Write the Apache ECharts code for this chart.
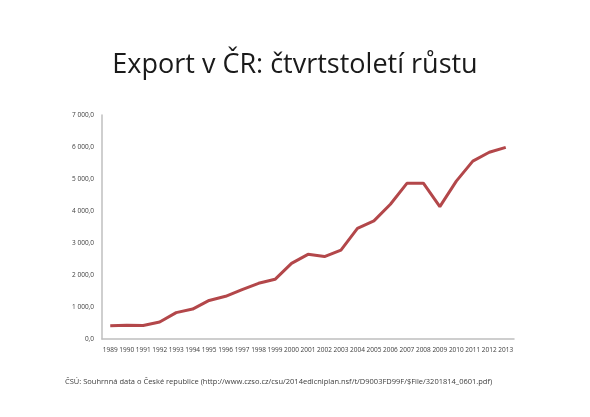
<!DOCTYPE html>
<html>
<head>
<meta charset="utf-8">
<script src="https://cdn.jsdelivr.net/npm/echarts@6/dist/echarts.min.js"></script>
<style>
  html, body { margin: 0; padding: 0; background: #fff; }
  #chart { width: 590px; height: 417px; }
</style>
</head>
<body>
<div id="chart"></div>
<script>
var years = ["1989", "1990", "1991", "1992", "1993", "1994", "1995", "1996", "1997",
  "1998", "1999", "2000", "2001", "2002", "2003", "2004", "2005", "2006", "2007",
  "2008", "2009", "2010", "2011", "2012", "2013"];
// export, mld. Kč
var exportValues = [415, 430, 420, 530, 825, 935, 1205, 1335, 1545, 1740, 1865,
  2365, 2645, 2575, 2780, 3455, 3690, 4210, 4865, 4870, 4135, 4935, 5560, 5835, 5990];

function fmt(v) {
  var s = String(Math.round(v));
  if (s.length > 3) s = s.slice(0, s.length - 3) + " " + s.slice(-3);
  return s + ",0";
}

var chart = echarts.init(document.getElementById("chart"));
chart.setOption({
  animation: false,
  textStyle: { fontFamily: "Open Sans" },
  title: [
    {
      text: "Export v ČR: čtvrtstoletí růstu",
      left: "center",
      top: 47,
      textStyle: { fontSize: 27, fontWeight: "normal", color: "#1a1a1a", fontFamily: "Open Sans" }
    },
    {
      text: "ČSÚ: Souhrnná data o České republice (http://www.czso.cz/csu/2014edicniplan.nsf/t/D9003FD99F/$File/3201814_0601.pdf)",
      left: 60,
      top: 373,
      textStyle: { fontSize: 7.5, fontWeight: "normal", color: "#404040", fontFamily: "Open Sans" }
    }
  ],
  grid: { left: 102, right: 76, top: 115, bottom: 78 },
  xAxis: {
    type: "category",
    data: years,
    boundaryGap: true,
    axisLine: { lineStyle: { color: "#bfbfbf", width: 1.5 } },
    axisTick: { show: false },
    axisLabel: { fontSize: 6.5, color: "#404040", margin: 8, interval: 0 }
  },
  yAxis: {
    type: "value",
    min: 0,
    max: 7000,
    interval: 1000,
    axisLine: { show: true, lineStyle: { color: "#bfbfbf", width: 1.5 } },
    axisTick: { show: false },
    splitLine: { show: false },
    axisLabel: { fontSize: 6.5, color: "#404040", margin: 8, formatter: fmt }
  },
  series: [{
    type: "line",
    data: exportValues,
    symbol: "none",
    lineStyle: { color: "#b3474a", width: 3 }
  }]
});
</script>
</body>
</html>
